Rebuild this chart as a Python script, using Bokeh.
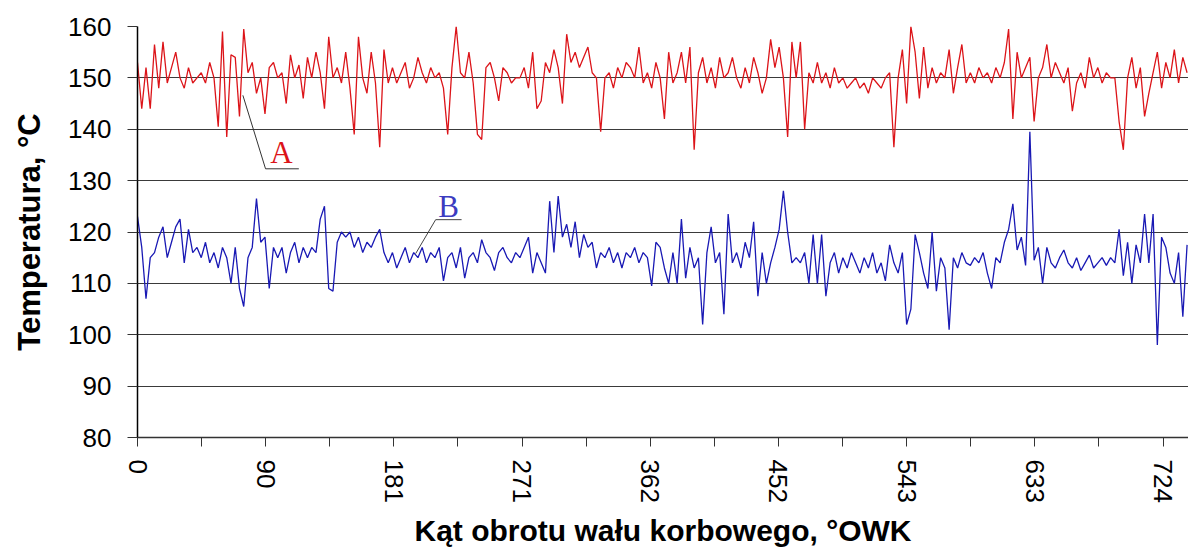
from bokeh.plotting import figure
from bokeh.models import FixedTicker, ColumnDataSource
from bokeh.core.properties import value
from bokeh.embed import file_html
from bokeh.resources import INLINE

# ---- data -------------------------------------------------------------
step_deg = 3
temp_A = [
    153, 144, 152, 144, 156.5, 148, 157, 149, 152, 155,
    150, 148, 152, 149, 150, 151, 149, 153, 150, 140.5,
    159, 138.5, 154.5, 154, 142.5, 159.5, 151, 153, 147, 150,
    143, 152, 153, 150, 151, 145, 154.5, 150, 152.5, 146,
    154, 150, 155, 151, 144, 158, 150, 152, 149, 155,
    148, 139, 158, 150, 147, 155, 149, 136.5, 155.5, 149,
    152, 149, 151, 153, 148, 150, 154, 151, 149, 152,
    150, 151, 148, 139, 152, 160, 151, 150, 155, 149,
    139, 138, 152, 153, 150, 145.5, 152, 151, 149, 150,
    150, 152, 148, 155, 144, 145.5, 153, 151, 155.5, 152,
    145, 158.5, 153, 155, 152, 154, 156, 151, 150, 139.5,
    150, 151, 148, 152, 150, 153, 152, 150, 156, 149,
    151, 148, 153, 150, 142, 155, 149, 151, 155, 149,
    156, 136, 151, 154, 149, 152, 148, 154, 150, 151,
    154, 150, 148, 152, 149, 154, 151, 147, 150, 157.5,
    152, 156, 150, 138.5, 157, 150, 157, 140, 151, 149,
    153, 149, 151, 148, 152, 149, 150, 148, 149, 150,
    148, 149, 147, 150, 149, 148, 150, 151, 136.5, 150,
    155.5, 145, 160, 155, 146, 156, 148, 152, 149, 151,
    150, 155.5, 147, 152, 156.5, 149, 151, 149, 152, 150,
    151, 149, 152, 150, 153, 159.5, 142, 155, 150, 152,
    154, 141.5, 150, 152, 156.5, 150, 153, 151, 149, 152,
    143.5, 149, 151, 148, 154, 150, 152, 149, 151, 150,
    150, 141.5, 136, 150, 154, 148, 152, 142.5, 147, 151,
    155, 148, 153, 150, 155.5, 149, 154, 151,
]
temp_B = [
    123, 117, 107, 115, 116, 119, 121, 115, 118, 121,
    122.5, 114, 120.5, 116, 117, 115, 118, 114, 116, 113,
    117, 115, 110, 117, 109, 105.5, 115, 117, 126.5, 118,
    119, 109, 117, 115, 117, 112, 116, 118, 114, 117,
    115, 117, 116, 122.5, 125, 109, 108.5, 118, 120, 119,
    120, 117, 119, 116, 118, 117, 119, 120.5, 116, 114,
    116, 113, 115, 117, 114, 116, 115, 117, 114, 116,
    115, 117, 110.5, 115, 116, 113, 117, 111, 115, 116,
    114, 118.5, 116, 115, 112.5, 116, 117, 115, 114, 116,
    115, 117, 119, 112, 116, 114, 112, 126, 116, 127,
    119, 121.5, 117, 122, 115, 119.5, 117, 118, 113, 116,
    115, 117, 114, 116, 113, 116, 115, 117, 114, 116,
    115, 109.5, 118, 117, 113, 110, 116, 110, 122.5, 111,
    117, 113, 115, 102, 116, 121, 114, 116, 104, 123.5,
    114, 116, 113, 118, 115, 122, 107.5, 116, 110, 114,
    117, 120.5, 128, 120, 114, 115, 114, 116, 110, 119.5,
    110, 119.5, 107.5, 114, 116, 112, 115, 113, 116, 114,
    112, 115, 113, 116, 112, 114, 110.5, 117.5, 114, 112,
    116, 102, 105, 119.5, 116, 112, 109, 120, 108.5, 115,
    113, 101, 115, 113, 116, 114, 113.5, 115, 114, 116,
    112, 109, 115, 114, 118, 120.5, 125.5, 116.5, 119, 113.5,
    139.5, 114.5, 117, 110, 117, 114, 113, 115, 116.5, 114,
    113, 115, 112.5, 114, 115.5, 113, 114, 115, 113.5, 115,
    114, 120.5, 111.5, 118, 110, 117.5, 114, 123.5, 114, 123.5,
    98, 119, 117, 112, 110, 116, 103.5, 117.5,
]
angle = [i * step_deg for i in range(len(temp_A))]

tick_positions = [0, 90.5, 181, 271.5, 362, 452.5, 543, 633.5, 724]
tick_labels = ["0", "90", "181", "271", "362", "452", "543", "633", "724"]
minor_positions = [45.25, 135.75, 226, 316.75, 407.25, 497.75, 588.25, 678.75]
y_ticks = [80, 90, 100, 110, 120, 130, 140, 150, 160]

# annotation guides (label, leader start, leader elbow, underline end)
label_A = dict(text="A", x=101.7, y=135.4, lx=[74.4, 90.4, 113.9], ly=[146.6, 132.3, 132.3])
label_B = dict(text="B", x=219.7, y=124.9, lx=[196.4, 210.5, 228.8], ly=[115.8, 122.4, 122.4])

RED = "#dc1419"
BLUE = "#1919b4"
BLUE_LABEL = "#3c3cc0"

# ---- figure -----------------------------------------------------------
p = figure(width=1188, height=553, x_range=(0, 742), y_range=(80, 160),
           output_backend="svg", toolbar_location=None,
           min_border_left=137, min_border_right=0, min_border_top=26,
           min_border_bottom=116)
p.outline_line_color = None
p.background_fill_color = "white"
p.border_fill_color = "white"

src = ColumnDataSource(dict(x=angle, a=temp_A, b=temp_B))
p.line("x", "a", source=src, line_color=RED, line_width=1.3)
p.line("x", "b", source=src, line_color=BLUE, line_width=1.3)

# annotations
p.line(label_A["lx"], label_A["ly"], line_color="#333333", line_width=1)
p.line(label_B["lx"], label_B["ly"], line_color="#444444", line_width=1)
p.text(x=[label_A["x"]], y=[label_A["y"]], text=[label_A["text"]],
       text_font=value("Liberation Serif"), text_font_size="31px",
       text_color=RED, text_align="center", text_baseline="alphabetic")
p.text(x=[label_B["x"]], y=[label_B["y"]], text=[label_B["text"]],
       text_font=value("Liberation Serif"), text_font_size="31px",
       text_color=BLUE_LABEL, text_align="center", text_baseline="alphabetic")

# grid
p.xgrid.grid_line_color = None
p.ygrid.ticker = FixedTicker(ticks=y_ticks)
p.ygrid.grid_line_color = "#3a3a3a"
p.ygrid.grid_line_width = 1

# x axis
xa = p.xaxis[0]
xa.ticker = FixedTicker(ticks=tick_positions, minor_ticks=minor_positions)
xa.major_label_overrides = {t: l for t, l in zip(tick_positions, tick_labels)}
xa.major_label_orientation = "vertical"
xa.major_tick_out = 9
xa.major_tick_in = 0
xa.minor_tick_out = 9
xa.minor_tick_in = 0
xa.major_tick_line_color = "#333333"
xa.minor_tick_line_color = "#333333"
xa.axis_line_color = "#333333"
xa.axis_line_width = 1.5
xa.major_label_standoff = 13
xa.major_label_text_font = "Liberation Sans"
xa.major_label_text_font_size = "26px"
xa.major_label_text_color = "black"
xa.axis_label = "Kąt obrotu wału korbowego, °OWK"
xa.axis_label_text_font = "Liberation Sans"
xa.axis_label_text_font_style = "bold"
xa.axis_label_text_font_size = "30px"
xa.axis_label_text_color = "black"
xa.axis_label_standoff = 8

# y axis
ya = p.yaxis[0]
ya.ticker = FixedTicker(ticks=y_ticks)
ya.major_tick_out = 10
ya.major_tick_in = 0
ya.minor_tick_line_color = None
ya.major_tick_line_color = "#333333"
ya.axis_line_color = "black"
ya.axis_line_width = 1.5
ya.major_label_standoff = 16
ya.major_label_text_font = "Liberation Sans"
ya.major_label_text_font_size = "26px"
ya.major_label_text_color = "black"
ya.axis_label = "Temperatura, °C"
ya.axis_label_text_font = "Liberation Sans"
ya.axis_label_text_font_style = "bold"
ya.axis_label_text_font_size = "31px"
ya.axis_label_text_color = "black"
ya.axis_label_standoff = 18

open("out.html", "w").write(file_html(p, INLINE))
